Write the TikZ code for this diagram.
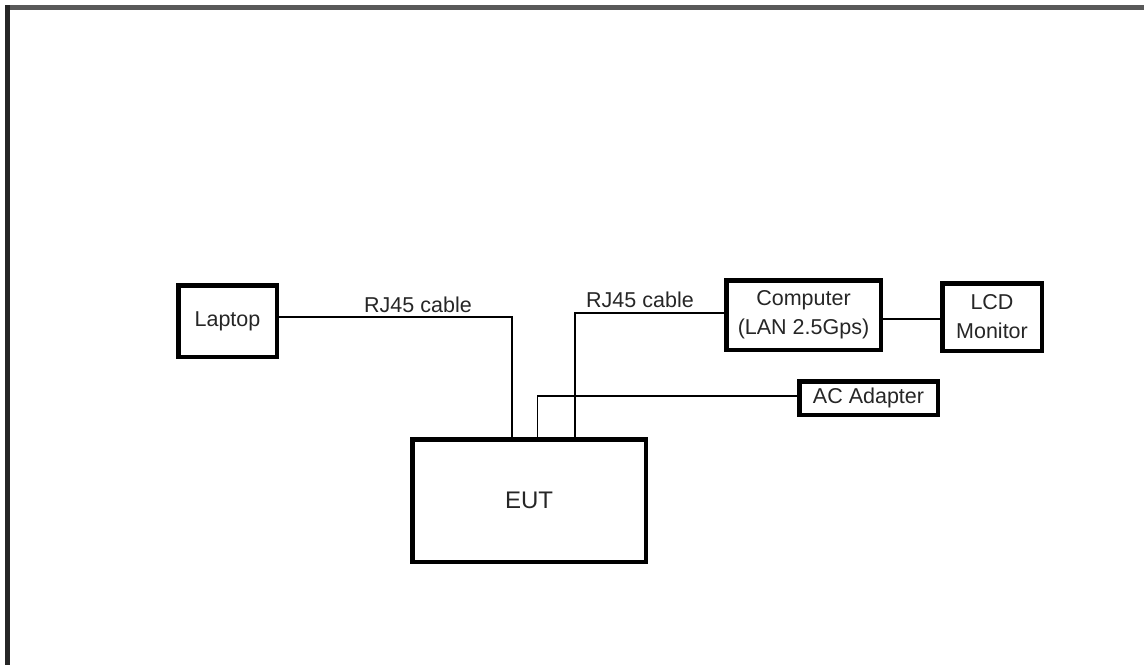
\documentclass[tikz,border=0pt]{standalone}
\usepackage{fontspec}
\setmainfont{Liberation Sans}
\begin{document}
\begin{tikzpicture}[x=1pt,y=-1pt,
  box/.style={draw=black, line width=4.5pt, inner sep=0pt, align=center, font=\fontsize{21.5}{29}\selectfont, text=black!85},
  wire/.style={draw=black, line width=1.3pt},
  lbl/.style={font=\fontsize{21.5}{26}\selectfont, text=black!85, inner sep=0pt}]
\useasboundingbox (0,0) rectangle (1144,665);
\fill[white] (0,0) rectangle (1144,665);
% frame
\draw[line width=4.5pt, black!65] (5,7.5) -- (1144,7.5);
\draw[line width=4.5pt, black!85] (7.5,5) -- (7.5,665);
% boxes
\node[box, minimum width=98.5, minimum height=71.5] (laptop) at (227.5,321) {Laptop};
\node[box, minimum width=154.5, minimum height=69.5] (comp) at (803.5,315) {Computer\\(LAN 2.5Gps)};
\node[box, minimum width=99.5, minimum height=67.5] (lcd) at (992,317) {LCD\\Monitor};
\node[box, minimum width=138.5, minimum height=33.5] (ac) at (868.5,398) {AC Adapter};
\node[box, minimum width=233.5, minimum height=122.5, font=\fontsize{24}{28}\selectfont] (eut) at (529,500.5) {EUT};
% junctions
\coordinate (j1) at (512,317);
\coordinate (j2) at (537.5,396);
\coordinate (j3) at (575,313);
\coordinate (j4) at (900,319);
% connectors
\draw[wire] (laptop.east |- j1) -- (j1) -- (j1 |- eut.north);
\draw[wire] (ac.west |- j2) -- (j2) -- (j2 |- eut.north);
\draw[wire] (comp.west |- j3) -- (j3) -- (j3 |- eut.north);
\draw[wire] (comp.east |- j4) -- (lcd.west |- j4);
% labels
\node[lbl] (l1) at (418,305) {RJ45 cable};
\node[lbl] (l2) at (640,300) {RJ45 cable};
\end{tikzpicture}
\end{document}
